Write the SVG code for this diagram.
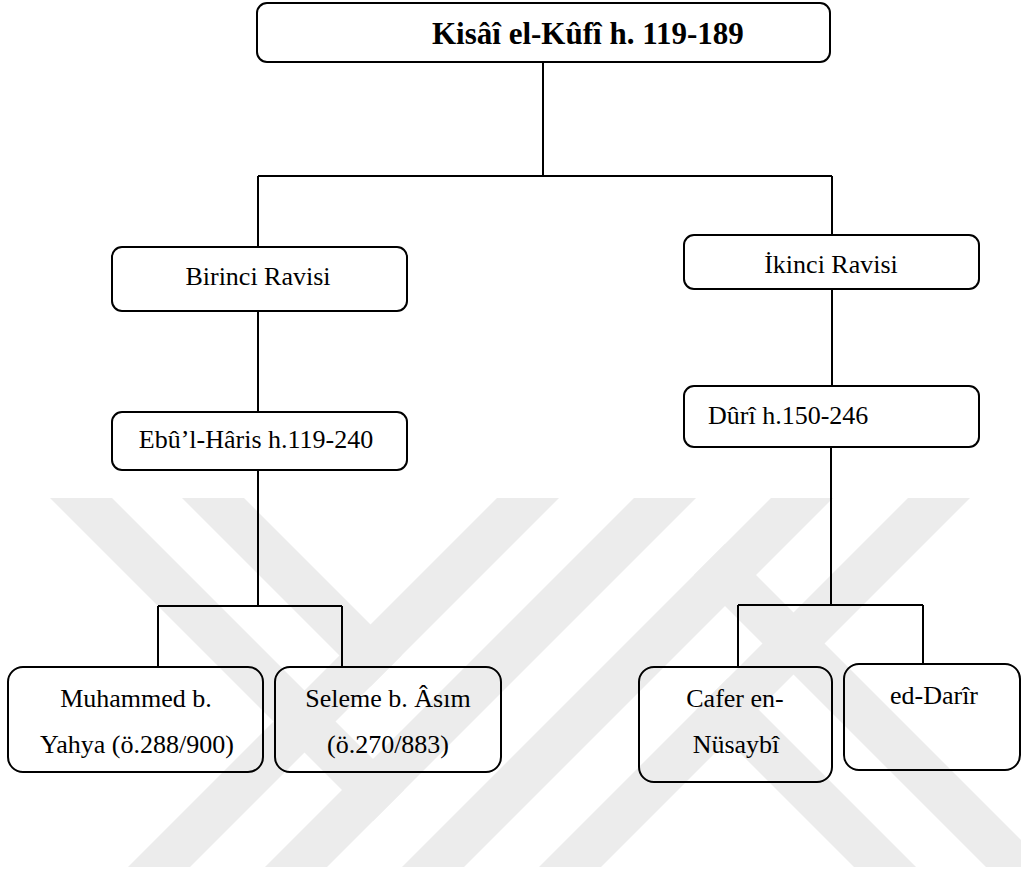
<svg xmlns="http://www.w3.org/2000/svg" width="1021" height="873" viewBox="0 0 1021 873">
  <style>
    .box { fill: none; stroke: #000; stroke-width: 2; }
    .lbl { font-family: "Liberation Serif", "Times New Roman", serif; font-size: 26px; fill: #000; }
    .mid { text-anchor: middle; }
    .title { font-family: "Liberation Serif", "Times New Roman", serif; font-size: 31px; font-weight: bold; fill: #000; }
    .wire { stroke: #000; stroke-width: 2; fill: none; }
    .band { fill: #ececec; }
  </style>
  <defs>
    <filter id="soft" x="-5%" y="-200%" width="110%" height="500%">
      <feGaussianBlur stdDeviation="2"/>
    </filter>
  </defs>

  <rect width="1021" height="873" fill="#fff"/>

  <!-- background stripe emblem -->
  <g id="emblem">
    <polygon class="band" points="497,498 559,498 190,867 128,867"/>
    <polygon class="band" points="634,498 696,498 327,867 265,867"/>
    <polygon class="band" points="771,498 833,498 464,867 402,867"/>
    <polygon class="band" points="908,498 970,498 601,867 539,867"/>
    <polygon class="band" points="50,498 112,498 404,790 373,821"/>
    <polygon class="band" points="182,498 244,498 401.5,655.5 370.5,686.5"/>
    <polygon class="band" points="1048,867 986,867 694,575 725,544"/>
    <polygon class="band" points="916,867 854,867 696.5,709.5 727.5,678.5"/>
  </g>

  <!-- connectors -->
  <g id="connectors">
    <line x1="262" y1="181" x2="830" y2="181" stroke="#d8d8d8" stroke-width="5" filter="url(#soft)"/>
    <path class="wire" d="M543,62 V176 M258,176 H832 M258,176 V247 M832,176 V235"/>
    <path class="wire" d="M258,311 V412 M832,289 V386"/>
    <path class="wire" d="M258,470 V606 M158,606 H342 M158,606 V667 M342,606 V667"/>
    <path class="wire" d="M831,447 V605 M738,605 H923 M738,605 V667 M923,605 V664"/>
  </g>

  <g id="kisai">
    <rect class="box" x="257" y="3" width="573" height="59" rx="10"/>
    <text class="title" x="432" y="44">Kisâî el-Kûfî h. 119-189</text>
  </g>

  <g id="birinci">
    <rect class="box" x="112" y="247" width="295" height="64" rx="10"/>
    <text class="lbl mid" x="258" y="285">Birinci Ravisi</text>
  </g>

  <g id="ikinci">
    <rect class="box" x="684" y="235" width="295" height="54" rx="10"/>
    <text class="lbl mid" x="831" y="273">İkinci Ravisi</text>
  </g>

  <g id="ebul-haris">
    <rect class="box" x="112" y="412" width="295" height="58" rx="10"/>
    <text class="lbl mid" x="256" y="448">Ebû’l-Hâris h.119-240</text>
  </g>

  <g id="duri">
    <rect class="box" x="684" y="386" width="295" height="61" rx="10"/>
    <text class="lbl" x="708" y="424">Dûrî h.150-246</text>
  </g>

  <g id="muhammed">
    <rect class="box" x="8" y="667" width="255" height="105" rx="15"/>
    <text class="lbl mid" x="136" y="707">Muhammed b.</text>
    <text class="lbl mid" x="137" y="753">Yahya (ö.288/900)</text>
  </g>

  <g id="seleme">
    <rect class="box" x="275" y="667" width="226" height="105" rx="15"/>
    <text class="lbl mid" x="388" y="707">Seleme b. Âsım</text>
    <text class="lbl mid" x="388" y="753">(ö.270/883)</text>
  </g>

  <g id="cafer">
    <rect class="box" x="639" y="667" width="193" height="115" rx="15"/>
    <text class="lbl mid" x="735" y="707">Cafer en-</text>
    <text class="lbl mid" x="736" y="753">Nüsaybî</text>
  </g>

  <g id="darir">
    <rect class="box" x="844" y="664" width="176" height="106" rx="15"/>
    <text class="lbl mid" x="934" y="704">ed-Darîr</text>
  </g>
</svg>
